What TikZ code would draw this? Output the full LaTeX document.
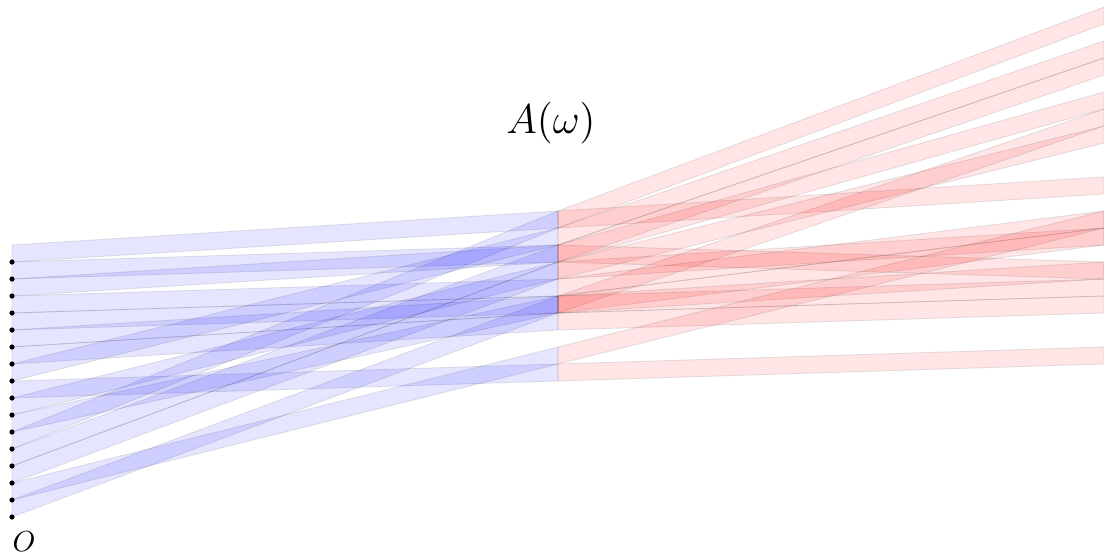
\documentclass[tikz,border=0pt]{standalone}
\begin{document}
\begin{tikzpicture}[x=0.346pt,y=-0.346pt,
  bb/.style={fill=blue, fill opacity=0.1, draw=black, draw opacity=0.1, line width=0.3pt},
  rb/.style={fill=red, fill opacity=0.1, draw=black, draw opacity=0.1, line width=0.3pt},
  pt/.style={circle, fill=black, inner sep=0pt, minimum size=1.8pt}]
\useasboundingbox (0,0) rectangle (1104,555);
% columns
\foreach \k in {0,...,16} \coordinate (L\k) at (12,245+17*\k);
\foreach \j in {0,...,10} \coordinate (M\j) at (558,211+17*\j);
\foreach \m in {0,...,22} \coordinate (R\m) at (1104,7+17*\m);
% blue bands  k -> j
\foreach \k/\j in {0/0,1/2,2/2,3/4,4/5,5/5,6/6,7/1,8/9,9/3,10/5,11/0,12/2,13/3,14/8,15/5}{
  \pgfmathtruncatemacro\kk{\k+1}
  \pgfmathtruncatemacro\jj{\j+1}
  \filldraw[bb] (L\k) -- (M\j) -- (M\jj) -- (L\kk) -- cycle;
}
% red bands  j -> m
\foreach \j/\m in {0/0,0/10,1/2,2/3,2/5,2/15,3/7,3/13,4/12,5/6,5/13,5/15,5/16,6/17,8/12,9/20}{
  \pgfmathtruncatemacro\jj{\j+1}
  \pgfmathtruncatemacro\mm{\m+1}
  \filldraw[rb] (M\j) -- (R\m) -- (R\mm) -- (M\jj) -- cycle;
}
% dots
\foreach \k in {1,...,16} \node[pt] (p\k) at (L\k) {};
\node (Aw) at (551,123) {\Large $A(\omega)$};
\node (O) at (24,542) {$O$};
\end{tikzpicture}
\end{document}
